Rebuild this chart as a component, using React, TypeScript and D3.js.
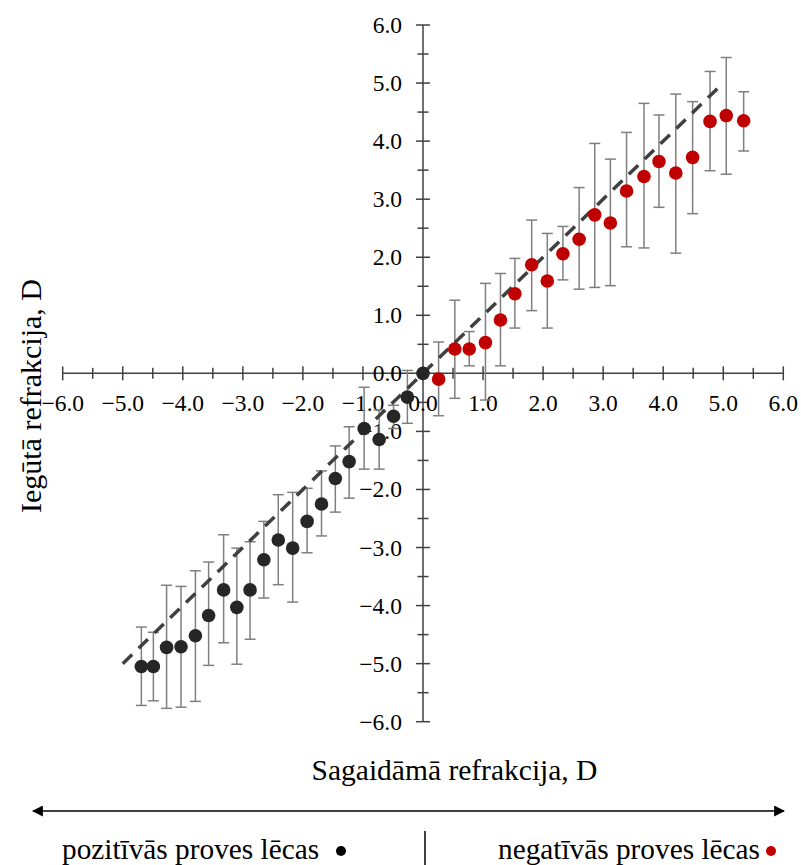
import React from "react";
import * as d3 from "d3";

// Positive test lenses (black)
const posX = [-4.69, -4.49, -4.27, -4.03, -3.79, -3.57, -3.32, -3.1, -2.88, -2.65, -2.41, -2.17, -1.93, -1.69, -1.46, -1.23, -0.98, -0.73, -0.49, -0.26, 0];
const posY = [-5.05, -5.05, -4.72, -4.71, -4.52, -4.17, -3.73, -4.03, -3.73, -3.21, -2.87, -3.01, -2.55, -2.25, -1.81, -1.52, -0.95, -1.14, -0.74, -0.41, 0];
const posHigh = [-4.37, -4.46, -3.65, -3.67, -3.4, -3.25, -2.78, -3.01, -2.9, -2.55, -2.09, -2.05, -1.98, -1.68, -1.25, -0.92, -0.24, -0.63, -0.55, 0.05, 0];
const posLow = [-5.72, -5.64, -5.77, -5.75, -5.65, -5.03, -4.64, -5.01, -4.58, -3.87, -3.64, -3.94, -3.09, -2.8, -2.39, -2.15, -1.65, -1.65, -0.95, -0.86, 0];

// Negative test lenses (red)
const negX = [0.26, 0.53, 0.77, 1.04, 1.29, 1.53, 1.81, 2.07, 2.33, 2.6, 2.86, 3.12, 3.39, 3.68, 3.93, 4.21, 4.49, 4.78, 5.05, 5.34];
const negY = [-0.1, 0.42, 0.42, 0.53, 0.92, 1.37, 1.87, 1.59, 2.06, 2.31, 2.73, 2.59, 3.14, 3.39, 3.65, 3.45, 3.72, 4.34, 4.44, 4.35];
const negHigh = [0.54, 1.26, 0.72, 1.55, 1.72, 1.98, 2.64, 2.41, 2.53, 3.2, 3.96, 3.69, 4.15, 4.65, 4.45, 4.81, 4.68, 5.2, 5.44, 4.85];
const negLow = [-0.73, -0.43, 0.13, -0.46, 0.13, 0.78, 1.08, 0.78, 1.61, 1.45, 1.48, 1.51, 2.18, 2.16, 2.86, 2.07, 2.75, 3.49, 3.43, 3.83];

// Reference line y = x
const refLine = [-5, 5];

const majorTicks = [-6, -5, -4, -3, -2, -1, 0, 1, 2, 3, 4, 5, 6];
const minorTicks = [-5.5, -4.5, -3.5, -2.5, -1.5, -0.5, 0.5, 1.5, 2.5, 3.5, 4.5, 5.5];

const xTitle = "Sagaidāmā refrakcija, D";
const yTitle = "Iegūtā refrakcija, D";
const legendLeft = "pozitīvās proves lēcas";
const legendRight = "negatīvās proves lēcas";

const W = 801;
const H = 865;
const FONT = "'Liberation Serif', 'Times New Roman', serif";

export default function App() {
  const x = d3.scaleLinear().domain([-6, 6]).range([62.7, 783.3]);
  const y = d3.scaleLinear().domain([-6, 6]).range([721.7, 25]);
  const x0 = x(0);
  const y0 = y(0);
  const axisColor = "#404040";
  const barColor = "#7f7f7f";
  const cap = 5.5;
  const fmt = d3.format(".1f");

  const line = d3.line<number>().x((d) => x(d)).y((d) => y(d));

  const bars = (xs: number[], hi: number[], lo: number[], key: string) =>
    xs.map((v, i) => {
      if (hi[i] === lo[i]) return null;
      const px = x(v);
      return (
        <g key={key + i} stroke={barColor} strokeWidth={1.5}>
          <line x1={px} x2={px} y1={y(hi[i])} y2={y(lo[i])} />
          <line x1={px - cap} x2={px + cap} y1={y(hi[i])} y2={y(hi[i])} />
          <line x1={px - cap} x2={px + cap} y1={y(lo[i])} y2={y(lo[i])} />
        </g>
      );
    });

  return (
    <svg width={W} height={H} style={{ display: "block", position: "absolute", left: 0, top: 0 }} fontFamily={FONT}>
      <rect width={W} height={H} fill="#fff" />
      {/* axes */}
      <line x1={x(-6)} x2={x(6)} y1={y0} y2={y0} stroke={axisColor} strokeWidth={1.5} />
      <line x1={x0} x2={x0} y1={y(6)} y2={y(-6)} stroke={axisColor} strokeWidth={1.5} />
      {majorTicks.map((t) => (
        <g key={"mx" + t} stroke={axisColor} strokeWidth={1.5}>
          <line x1={x(t)} x2={x(t)} y1={y0 - 7} y2={y0 + 7} />
          <line x1={x0 - 7} x2={x0 + 7} y1={y(t)} y2={y(t)} />
        </g>
      ))}
      {minorTicks.map((t) => (
        <g key={"mn" + t} stroke={axisColor} strokeWidth={1.5}>
          <line x1={x(t)} x2={x(t)} y1={y0 - 5.5} y2={y0 + 5.5} />
          <line x1={x0 - 5.5} x2={x0 + 5.5} y1={y(t)} y2={y(t)} />
        </g>
      ))}
      {majorTicks.map((t) => (
        <text key={"lx" + t} x={x(t)} y={y0 + 38} fontSize={23.5} textAnchor="middle" fill="#000">
          {fmt(t)}
        </text>
      ))}
      {majorTicks.map((t) => (
        <text key={"ly" + t} x={x0 - 21} y={y(t) + 8} fontSize={23.5} textAnchor="end" fill="#000">
          {fmt(t)}
        </text>
      ))}

      {/* error bars */}
      {bars(posX, posHigh, posLow, "pb")}
      {bars(negX, negHigh, negLow, "nb")}

      {/* reference line */}
      <path d={line(refLine) || ""} stroke="#404040" strokeWidth={3.5} strokeDasharray="13 9" fill="none" />

      {/* points */}
      {posX.map((v, i) => (
        <circle key={"pp" + i} cx={x(v)} cy={y(posY[i])} r={6.8} fill="#262626" />
      ))}
      {negX.map((v, i) => (
        <circle key={"np" + i} cx={x(v)} cy={y(negY[i])} r={6.8} fill="#c00000" />
      ))}

      {/* titles */}
      <text x={454.5} y={780} fontSize={29.5} textAnchor="middle" fill="#000">
        {xTitle}
      </text>
      <text transform={`translate(41, 396) rotate(-90)`} fontSize={30} textAnchor="middle" fill="#000">
        {yTitle}
      </text>

      {/* bottom arrow */}
      <defs>
        <marker id="arr" viewBox="0 0 10 10" refX="9" refY="5" markerWidth="11" markerHeight="11" markerUnits="userSpaceOnUse" orient="auto-start-reverse">
          <path d="M0,0 L10,5 L0,10 z" fill="#000" />
        </marker>
      </defs>
      <line x1={33} x2={784} y1={811} y2={811} stroke="#000" strokeWidth={1.5} markerStart="url(#arr)" markerEnd="url(#arr)" />

      {/* legend */}
      <text x={62} y={859} fontSize={29.3} fill="#000">
        {legendLeft}
      </text>
      <circle cx={341} cy={851} r={5} fill="#000" />
      <line x1={425} x2={425} y1={831} y2={865} stroke="#000" strokeWidth={1.5} />
      <text x={498} y={859} fontSize={29.3} fill="#000">
        {legendRight}
      </text>
      <circle cx={771} cy={851} r={5} fill="#c00000" />
    </svg>
  );
}
